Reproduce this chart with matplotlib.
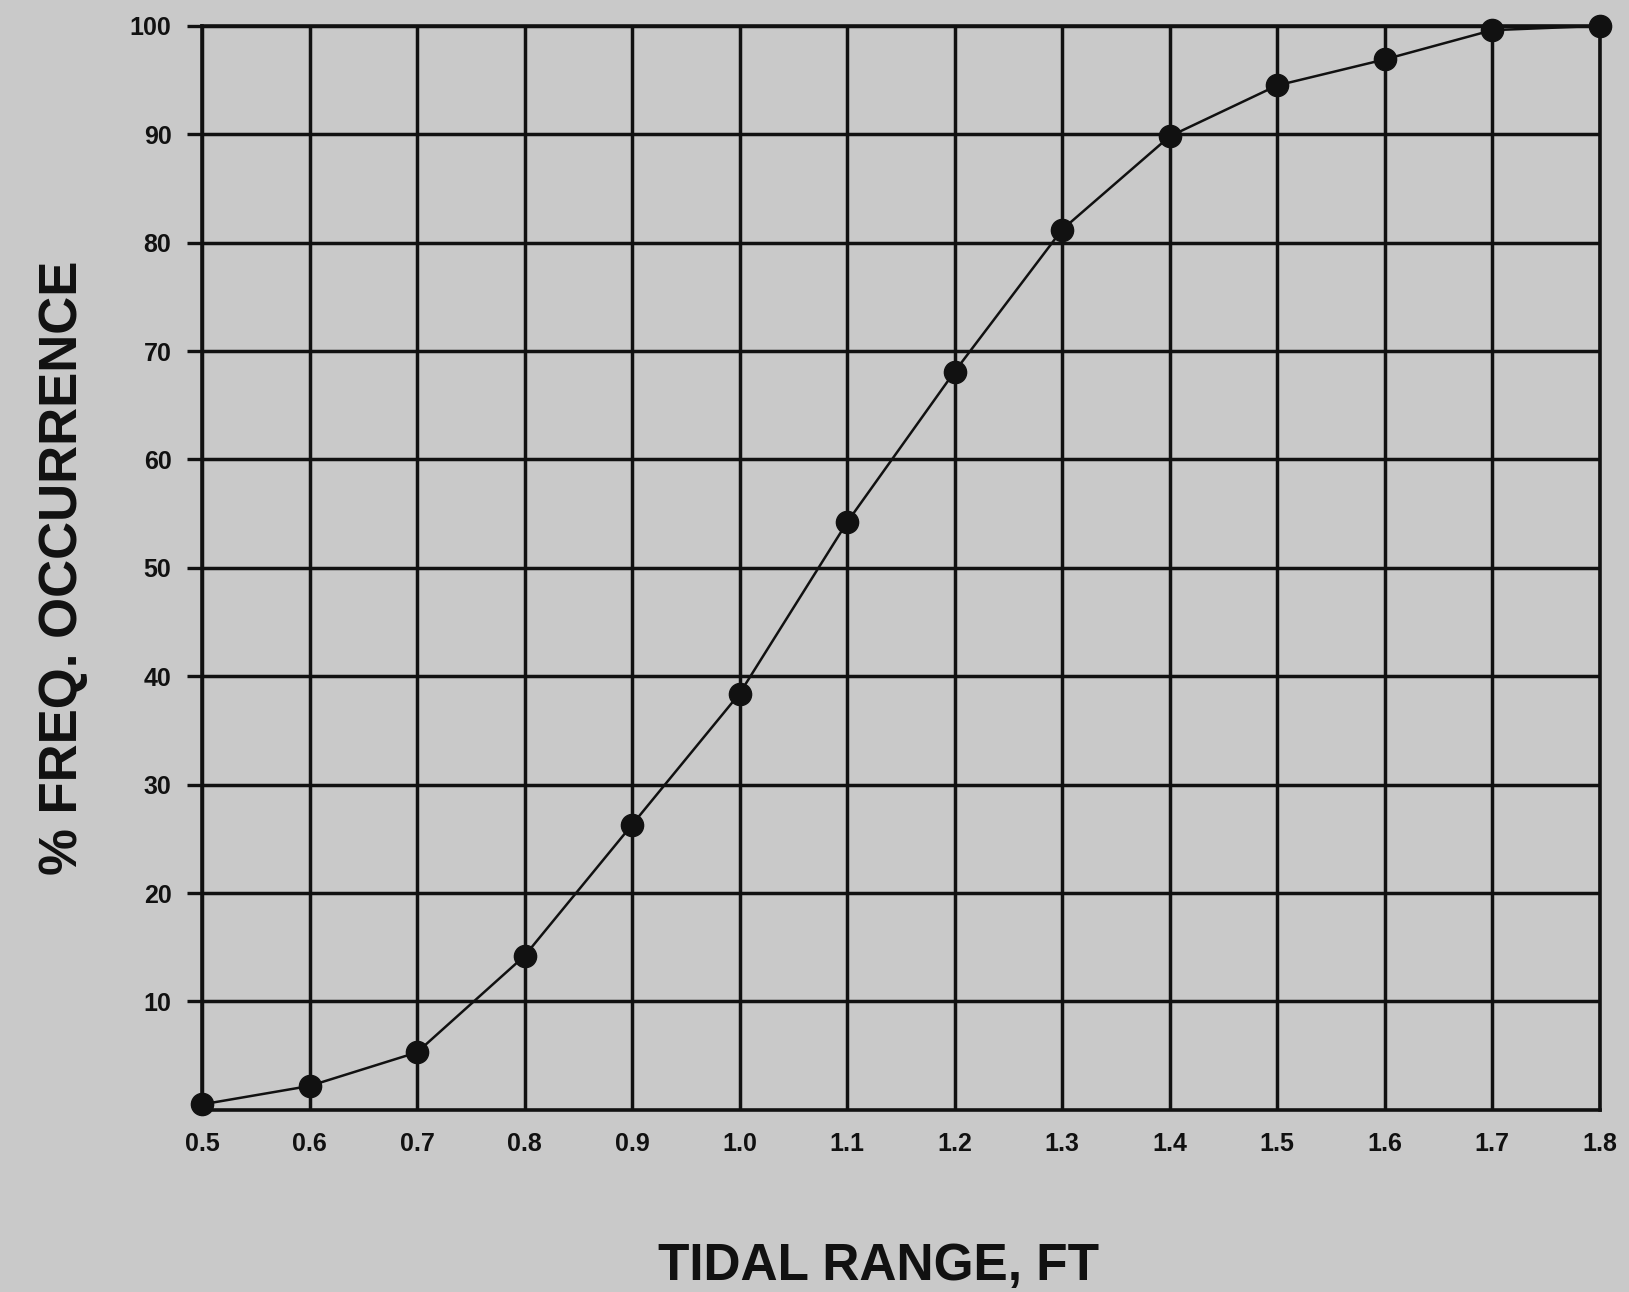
import matplotlib
matplotlib.use("Agg")
import matplotlib.pyplot as plt

# Cumulative frequency of tidal range
tidal_range_ft = [0.5, 0.6, 0.7, 0.8, 0.9, 1.0, 1.1, 1.2, 1.3, 1.4, 1.5, 1.6, 1.7, 1.8]
pct_occurrence = [0.5, 2.2, 5.3, 14.2, 26.3, 38.4, 54.2, 68.1, 81.2, 89.8, 94.5, 96.9, 99.6, 100.0]

x_ticks = [0.5, 0.6, 0.7, 0.8, 0.9, 1.0, 1.1, 1.2, 1.3, 1.4, 1.5, 1.6, 1.7, 1.8]
x_tick_labels = ["0.5", "0.6", "0.7", "0.8", "0.9", "1.0", "1.1", "1.2", "1.3", "1.4", "1.5", "1.6", "1.7", "1.8"]
y_ticks = [10, 20, 30, 40, 50, 60, 70, 80, 90, 100]

paper = "#c9c9c9"
ink = "#111111"

plt.rcParams["font.family"] = ["Liberation Sans", "DejaVu Sans"]
plt.rcParams["font.weight"] = "bold"

fig = plt.figure(figsize=(16.29, 12.92), dpi=100, facecolor=paper)
ax = fig.add_axes([0.124, 0.141, 0.858, 0.839])
ax.set_facecolor(paper)

ax.set_xlim(0.5, 1.8)
ax.set_ylim(0, 100)

ax.set_xticks(x_ticks)
ax.set_xticklabels(x_tick_labels)
ax.set_yticks(y_ticks)

ax.grid(True, color=ink, linewidth=2.5)
ax.set_axisbelow(True)
for s in ax.spines.values():
    s.set_color(ink)
    s.set_linewidth(2.6)

ax.tick_params(axis="y", length=11, width=2.4, color=ink, pad=11, labelsize=18, labelcolor=ink)
ax.tick_params(axis="x", length=0, pad=16, labelsize=18, labelcolor=ink)
for lab in ax.get_xticklabels() + ax.get_yticklabels():
    lab.set_fontweight("bold")

ax.plot(tidal_range_ft, pct_occurrence, color=ink, linewidth=1.8,
        marker="o", markersize=16, markerfacecolor=ink, markeredgecolor=ink,
        clip_on=False, zorder=5)

ax.set_xlabel("TIDAL RANGE, FT", fontsize=37, fontweight="bold", color=ink, labelpad=62)
ax.xaxis.label.set_x(0.484)
ax.set_ylabel("% FREQ. OCCURRENCE", fontsize=38, fontweight="bold", color=ink, labelpad=30)

fig.savefig("out.png", dpi=100, facecolor=paper)
